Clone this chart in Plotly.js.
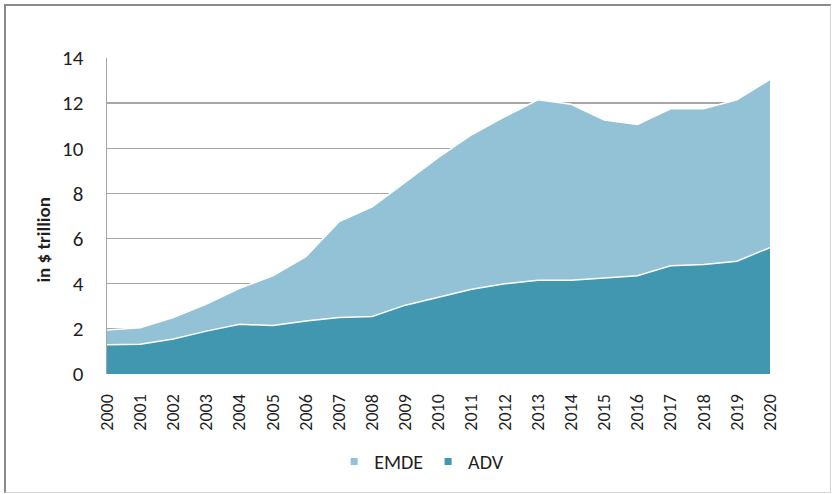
<!DOCTYPE html>
<html>
<head>
<meta charset="utf-8">
<script src="https://cdn.plot.ly/plotly-3.0.1.min.js"></script>
<style>
  html, body { margin: 0; padding: 0; background: #fff; }
  #wrap { position: relative; width: 835px; height: 494px; }
  #chart { position: absolute; left: 0; top: 0; width: 835px; height: 494px; }
  #frame { position: absolute; left: 4px; top: 4px; width: 824px; height: 486px;
           border-left: 2px solid #8a8a8a; border-top: 2px solid #8a8a8a;
           border-right: 1px solid #d4d4d4; border-bottom: 1px solid #d4d4d4;
           pointer-events: none; }
</style>
</head>
<body>
<div id="wrap">
  <div id="chart"></div>
  <div id="frame"></div>
</div>
<script>
const years = [2000,2001,2002,2003,2004,2005,2006,2007,2008,2009,2010,2011,2012,2013,2014,2015,2016,2017,2018,2019,2020];
const adv  = [1.30,1.32,1.55,1.90,2.20,2.15,2.35,2.50,2.55,3.05,3.40,3.75,4.00,4.15,4.15,4.25,4.35,4.80,4.85,5.00,5.60];
const emde = [0.65,0.73,0.95,1.20,1.60,2.20,2.85,4.25,4.85,5.45,6.20,6.85,7.40,8.00,7.80,7.00,6.70,6.95,6.90,7.15,7.45];
const yTicks = [0,2,4,6,8,10,12,14];
const seriesNames = ['ADV', 'EMDE'];
const seriesColors = ['#4197b0', '#93c1d5'];
const yTitle = 'in $ trillion';

const fontFam = "Carlito, 'Open Sans', 'Liberation Sans', sans-serif";

const traces = [
  { x: years, y: adv, name: seriesNames[0], type: 'scatter', mode: 'lines', stackgroup: 'one',
    fillcolor: seriesColors[0], line: { color: '#ffffff', width: 1.5 }, showlegend: false },
  { x: years, y: emde, name: seriesNames[1], type: 'scatter', mode: 'lines', stackgroup: 'one',
    fillcolor: seriesColors[1], line: { color: '#ffffff', width: 1.5 }, showlegend: false },
  // legend keys (small squares, as in the original)
  { x: [null], y: [null], name: seriesNames[1], type: 'scatter', mode: 'markers',
    marker: { symbol: 'square', size: 7, color: seriesColors[1] }, showlegend: true },
  { x: [null], y: [null], name: seriesNames[0], type: 'scatter', mode: 'markers',
    marker: { symbol: 'square', size: 7, color: seriesColors[0] }, showlegend: true }
];

const layout = {
  width: 835, height: 494,
  margin: { l: 107, r: 65, t: 58, b: 120 },
  paper_bgcolor: '#ffffff', plot_bgcolor: '#ffffff',
  font: { family: fontFam, color: '#1f1f1f' },
  showlegend: true,
  legend: {
    orientation: 'h', traceorder: 'normal',
    xref: 'container', yref: 'container',
    x: 0.505, xanchor: 'center', y: 0.066, yanchor: 'middle',
    font: { size: 20, color: '#1f1f1f', family: fontFam },
    itemwidth: 30, tracegroupgap: 0
  },
  xaxis: {
    range: [2000, 2020], tickmode: 'array', tickvals: years, ticktext: years.map(String),
    tickangle: -90, showgrid: false, zeroline: false, showline: false,
    ticks: 'outside', ticklen: 12, tickcolor: 'rgba(0,0,0,0)',
    tickfont: { size: 18, color: '#1f1f1f', family: fontFam }
  },
  yaxis: {
    range: [0, 14], tickmode: 'array', tickvals: yTicks, ticktext: yTicks.map(String),
    showgrid: true, gridcolor: '#a6a6a6', gridwidth: 1.5, zeroline: false,
    showline: true, linecolor: '#a6a6a6', linewidth: 1.5,
    ticks: 'outside', ticklen: 18, tickcolor: 'rgba(0,0,0,0)',
    tickfont: { size: 21, color: '#1f1f1f', family: fontFam }
  },
  annotations: [{
    text: '<b>' + yTitle + '</b>', textangle: -90, showarrow: false,
    xref: 'paper', yref: 'paper', x: -0.0958, y: 0.427, xanchor: 'center', yanchor: 'middle',
    font: { size: 19, color: '#1f1f1f', family: fontFam }
  }]
};

Plotly.newPlot('chart', traces, layout, { displayModeBar: false, staticPlot: true });
</script>
</body>
</html>
